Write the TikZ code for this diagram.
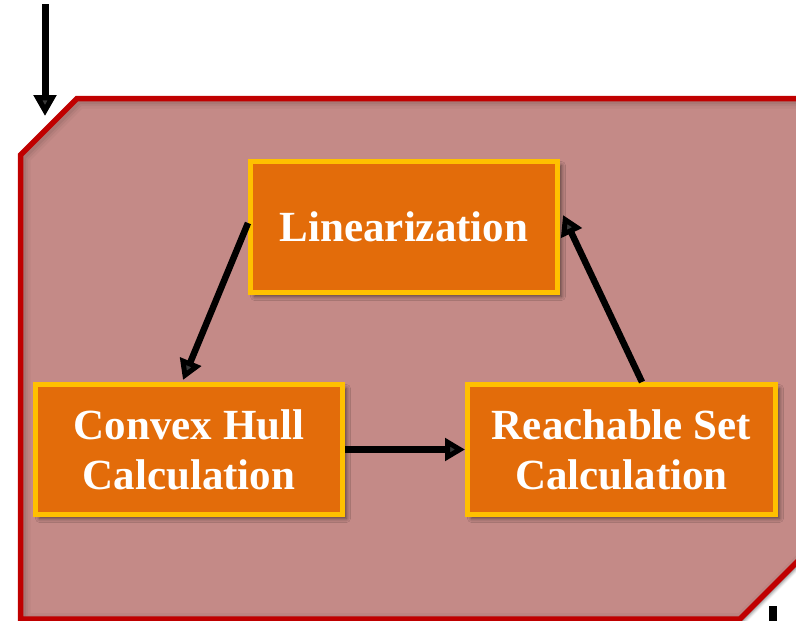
\documentclass[tikz,border=0pt]{standalone}
\usepackage{fontspec}
\setmainfont{Liberation Serif}
\usetikzlibrary{arrows.meta,shadows.blur,calc}
\definecolor{panelfill}{RGB}{196,138,135}
\definecolor{panelline}{RGB}{192,0,0}
\definecolor{boxfill}{RGB}{227,108,10}
\definecolor{boxline}{RGB}{255,192,0}
\tikzset{
  stage/.style={rectangle, draw=boxline, line width=5pt, fill=boxfill,
    text=white, font=\bfseries\fontsize{43}{50}\selectfont, align=center,
    inner sep=0pt,
    blur shadow={shadow xshift=4pt, shadow yshift=-4pt, shadow blur steps=6,
      shadow opacity=55, shadow blur radius=4pt}},
  flow/.style={line width=6.5pt, -{Triangle[length=20pt,width=22pt]}},
}
\begin{document}
\begin{tikzpicture}[x=1pt,y=-1pt]
\useasboundingbox (0,0) rectangle (796,621);

% the enclosing panel with two snipped corners
\path[fill=panelfill, blur shadow={shadow xshift=3pt, shadow yshift=-3pt,
    shadow opacity=45, shadow blur steps=5, shadow blur radius=3pt}]
  (20.5,155) -- (77,98.5) -- (812,98.5) -- (812,547) -- (740,619) -- (20.5,619) -- cycle;
% soft inner shadow along the upper and left edges
\begin{scope}
  \clip (20.5,155) -- (77,98.5) -- (812,98.5) -- (812,547) -- (740,619) -- (20.5,619) -- cycle;
  \foreach \w/\o in {16/0.035, 11/0.045, 7/0.06}
    \draw[line width=\w pt, black, opacity=\o, shift={(2,2)}]
      (20.5,155) -- (77,98.5) -- (812,98.5) -- (812,547) -- (740,619) -- (20.5,619) -- cycle;
\end{scope}
\draw[panelline, line width=5.5pt, line join=miter]
  (20.5,155) -- (77,98.5) -- (812,98.5) -- (812,547) -- (740,619) -- (20.5,619) -- cycle;

% incoming and outgoing arrows of the panel
\coordinate (feedTop) at (45,4);
\coordinate (feedEnd) at (45,116);
\draw[line width=7pt, -{Triangle[length=21pt,width=22pt]}] (feedTop) -- (feedEnd);
\coordinate (exitTop) at (773,606);
\coordinate (exitEnd) at (773,621);
\draw[line width=8pt] (exitTop) -- (exitEnd);

% the three stages
\node[stage, minimum width=307pt, minimum height=131pt] (lin) at (404,227) {Linearization};
\node[stage, minimum width=307pt, minimum height=130pt] (hull) at (189,449.5) {Convex Hull\\Calculation};
\node[stage, minimum width=308pt, minimum height=130pt] (reach) at (621.5,449.5) {Reachable Set\\Calculation};

% the loop between the stages
\draw[flow] ([yshift=4pt]lin.west) -- ([xshift=-6pt,yshift=2pt]hull.north);
\draw[flow] (hull.east) -- (reach.west);
\draw[flow] ([xshift=20.5pt]reach.north) -- ([xshift=3pt,yshift=12pt]lin.east);
\end{tikzpicture}
\end{document}
